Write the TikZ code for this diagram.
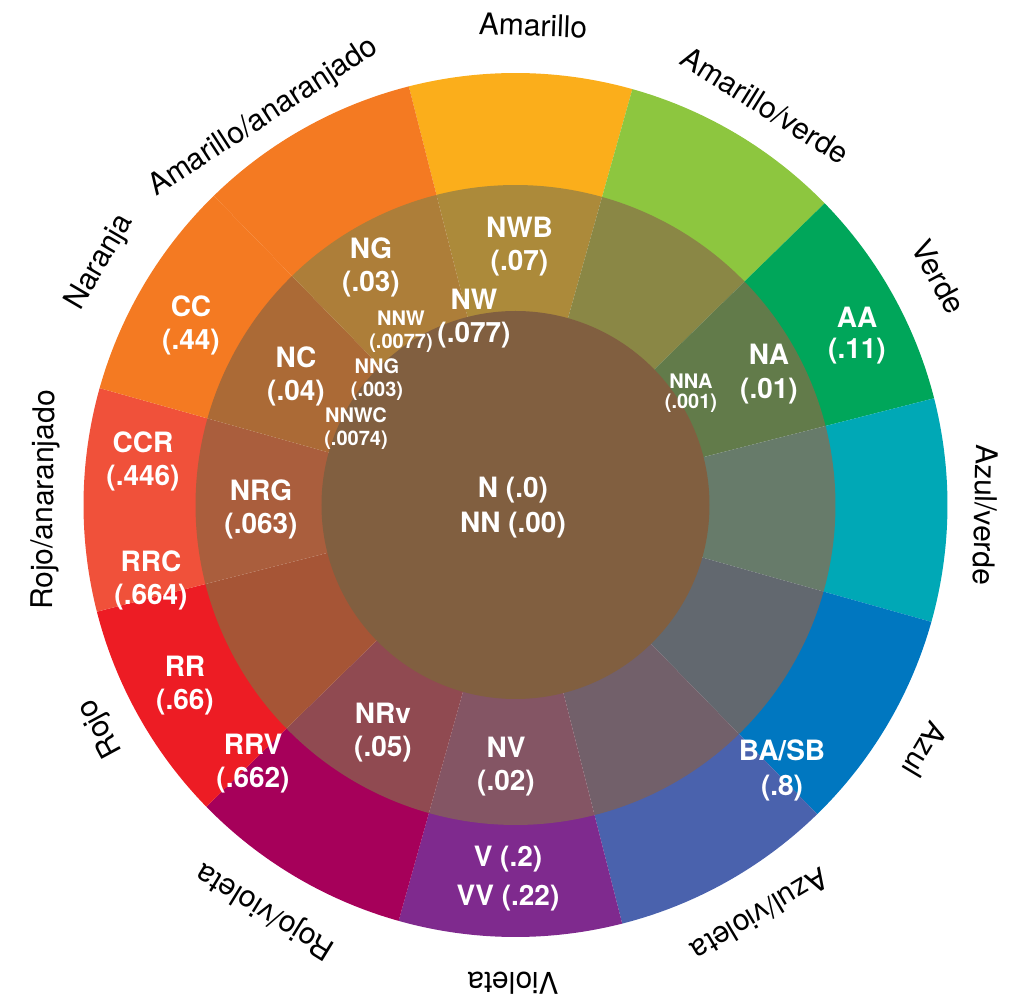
\documentclass[tikz,border=0pt]{standalone}
\usepackage{fontspec}
\setmainfont{TeX Gyre Heros}
\definecolor{cA}{HTML}{FBAE1B}
\definecolor{cAV}{HTML}{8DC63F}
\definecolor{cV}{HTML}{00A65A}
\definecolor{cAzV}{HTML}{00A8B6}
\definecolor{cAz}{HTML}{0077C0}
\definecolor{cAzVi}{HTML}{4A62AD}
\definecolor{cVi}{HTML}{7F2A8E}
\definecolor{cRVi}{HTML}{A6005A}
\definecolor{cR}{HTML}{ED1C24}
\definecolor{cRA}{HTML}{F0513A}
\definecolor{cN}{HTML}{F47A22}
\definecolor{cAA}{HTML}{F47A22}
\definecolor{mA}{HTML}{AC8A3A}
\definecolor{mAV}{HTML}{8A8745}
\definecolor{mV}{HTML}{627B4A}
\definecolor{mAzV}{HTML}{677B6A}
\definecolor{mAz}{HTML}{62686F}
\definecolor{mAzVi}{HTML}{72606A}
\definecolor{mVi}{HTML}{845564}
\definecolor{mRVi}{HTML}{904A51}
\definecolor{mR}{HTML}{A65536}
\definecolor{mRA}{HTML}{AA5E3D}
\definecolor{mN}{HTML}{AB6A36}
\definecolor{mAA}{HTML}{AD7E39}
\definecolor{cin}{HTML}{815F40}
\begin{document}
\begin{tikzpicture}[x=1pt,y=1pt,
  lab/.style={text=white,font=\bfseries\fontsize{28}{33}\selectfont,align=center,inner sep=0pt},
  slab/.style={text=white,font=\bfseries\fontsize{20}{23}\selectfont,align=center,inner sep=0pt},
  olab/.style={text=black,font=\fontsize{30}{36}\selectfont,inner sep=0pt}]
\useasboundingbox (-515.5,-498) rectangle (504.5,505);
\foreach \k/\oc/\mc in {0/cA/mA,1/cAV/mAV,2/cV/mV,3/cAzV/mAzV,4/cAz/mAz,5/cAzVi/mAzVi,6/cVi/mVi,7/cRVi/mRVi,8/cR/mR,9/cRA/mRA,10/cN/mN,11/cAA/mAA}{
  \pgfmathsetmacro\aa{90-30*\k-0.7-15}
  \pgfmathsetmacro\ab{\aa+30}
  \fill[\oc] (\aa:319pt) arc[start angle=\aa,end angle=\ab,radius=319pt] -- (\ab:432pt) arc[start angle=\ab,end angle=\aa,radius=432pt] -- cycle;
  \fill[\mc] (\aa:193pt) arc[start angle=\aa,end angle=\ab,radius=193pt] -- (\ab:320pt) arc[start angle=\ab,end angle=\aa,radius=320pt] -- cycle;
}
\fill[cin] (0,0) circle[radius=194pt];
% outer labels
\node[olab,rotate=-2.1] (lAm) at (87.9:480pt) {Amarillo};
\node[olab,rotate=-32] (lAmV) at (58:471pt) {Amarillo/verde};
\node[olab,rotate=-61.7] (lVe) at (28.3:481pt) {Verde};
\node[olab,rotate=-91.2] (lAzV) at (-1.2:470pt) {Azul/verde};
\node[olab,rotate=-120.9] (lAz) at (-30.9:477pt) {Azul};
\node[olab,rotate=-149.2] (lAzVi) at (-59.2:477pt) {Azul/violeta};
\node[olab,rotate=-180.3] (lVi) at (-90.3:478pt) {Violeta};
\node[olab,rotate=-211.6] (lRVi) at (-121.6:476pt) {Rojo/violeta};
\node[olab,rotate=-241.7] (lR) at (-151.7:471pt) {Rojo};
\node[olab,rotate=89.4] (lRA) at (179.4:470pt) {Rojo/anaranjado};
\node[olab,rotate=59.7] (lN) at (149.7:481pt) {Naranja};
\node[olab,rotate=33] (lAA) at (123:462pt) {Amarillo/anaranjado};
% inner labels
\node[lab] (nwb) at (4,258.5) {NWB\\(.07)};
\node[lab] (nw) at (-41.5,186) {NW\\(.077)};
\node[lab] (ng) at (-144.5,238) {NG\\(.03)};
\node[slab] (nnw) at (-114.5,173.5) {NNW\\(.0077)};
\node[slab] (nng) at (-138.5,125.5) {NNG\\(.003)};
\node[slab] (nnwc) at (-159.5,76) {NNWC\\(.0074)};
\node[lab] (nc) at (-219.5,128.5) {NC\\(.04)};
\node[lab] (cc) at (-324.5,180) {CC\\(.44)};
\node[lab] (ccr) at (-372.5,43.5) {CCR\\(.446)};
\node[lab] (nrg) at (-254.5,-4) {NRG\\(.063)};
\node[lab] (rrc) at (-364.5,-75.5) {RRC\\(.664)};
\node[lab] (rr) at (-330.5,-181) {RR\\(.66)};
\node[lab] (rrv) at (-262.5,-259) {RRV\\(.662)};
\node[lab] (nrv) at (-132.5,-227.5) {NRv\\(.05)};
\node[lab] (nv) at (-9.5,-261.5) {NV\\(.02)};
\node[lab,font=\bfseries\fontsize{28}{39}\selectfont] (vv) at (-7.5,-373.5) {V (.2)\\VV (.22)};
\node[lab,font=\bfseries\fontsize{28}{35}\selectfont] (basb) at (266.5,-265.5) {BA/SB\\(.8)};
\node[lab,font=\bfseries\fontsize{28}{31}\selectfont] (aa) at (341.5,169.5) {AA\\(.11)};
\node[lab,font=\bfseries\fontsize{28}{34}\selectfont] (na) at (253.5,131) {NA\\(.01)};
\node[slab,font=\bfseries\fontsize{20}{20}\selectfont] (nna) at (175.5,112) {NNA\\(.001)};
\node[lab,font=\bfseries\fontsize{28}{35}\selectfont] (nn) at (-2.5,-2.5) {N (.0)\\NN (.00)};
\end{tikzpicture}
\end{document}
